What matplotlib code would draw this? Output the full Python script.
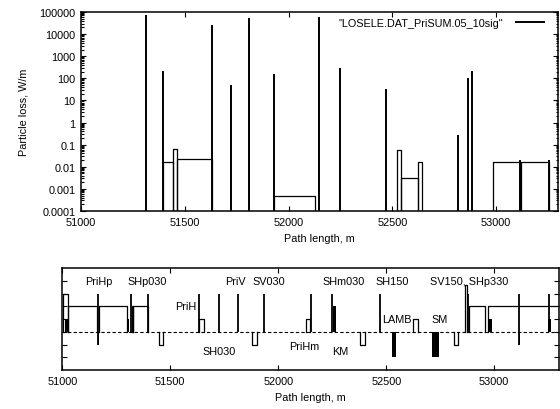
import matplotlib
matplotlib.use("Agg")
import matplotlib.pyplot as plt
from matplotlib.ticker import FixedLocator, FixedFormatter, LogLocator, NullFormatter

plt.rcParams['font.family'] = ['Liberation Sans', 'DejaVu Sans']
plt.rcParams['font.size'] = 7.8

# ---- particle loss along the ring (upper panel) ----
spike_pos = [51311, 51393, 51632, 51722, 51808, 51929, 52147, 52250, 52469,
             52816, 52866, 52882, 53117, 53254]
spike_val = [70000, 220, 25000, 50, 53000, 155, 60000, 300, 33,
             0.28, 100, 220, 0.02, 0.02]

box_start = [51393, 51441, 51463, 51929, 52522, 52543, 52623, 52984, 53122]
box_end = [51441, 51463, 51632, 52129, 52543, 52623, 52644, 53117, 53254]
box_val = [0.016, 0.063, 0.022, 0.0005, 0.059, 0.003, 0.017, 0.016, 0.016]

y_ticks = [1e-4, 1e-3, 1e-2, 1e-1, 1, 10, 100, 1000, 10000, 100000]
y_tick_labels = ['0.0001', '0.001', '0.01', '0.1', '1', '10', '100', '1000',
                 '10000', '100000']
x_ticks = [51000, 51500, 52000, 52500, 53000]
x_tick_labels = ['51000', '51500', '52000', '52500', '53000']
legend_label = '"LOSELE.DAT_PriSUM.05_10sig"'

# ---- lattice layout (lower panel) ----
# outlined elements: start, end, height
elem_start = [51003, 51028, 51170, 51324, 51329, 51446, 51634, 51880, 52128,
              52380, 52625, 52813, 52864, 52884, 52972]
elem_end = [51028, 51160, 51298, 51329, 51398, 51468, 51656, 51901, 52147,
            52401, 52645, 52833, 52872, 52957, 53310]
elem_height = [3, 2, 2, 2, 2, -1, 1, -1, 1, -1, 1, -1, 3.7, 2, 2]

# filled elements: start, end, height
fill_start = [51013, 51163, 51302, 52252, 52525, 52713, 52976, 53113, 53248]
fill_end = [51026, 51169, 51310, 52267, 52546, 52745, 52988, 53120, 53263]
fill_height = [1, -1, 1, 2, -2, -2, 1, -1, 1]

# thin markers: position, low, high
mark_pos = [51166, 51317, 51398, 51634, 51725, 51812, 51935, 52151, 52250,
            52472, 52880, 53116, 53253]
mark_lo = [-1, 0, 0, 0, 0, 0, 0, 0, 0, 0, 0, -1, 0]
mark_hi = [3, 3, 3, 3, 3, 3, 3, 3, 3, 3, 3, 3, 3]

names = ['PriHp', 'SHp030', 'PriH', 'PriV', 'SV030', 'SH030', 'PriHm',
         'SHm030', 'KM', 'SH150', 'LAMB', 'SM', 'SV150, SHp330']
name_pos = [51167, 51391, 51571, 51800, 51958, 51727, 52119,
            52301, 52289, 52528, 52551, 52745, 52883]
name_lev = [4, 4, 2, 4, 4, -1.5, -1.1, 4, -1.5, 4, 1, 1, 4]

W, H = 560, 410
fig = plt.figure(figsize=(W / 100, H / 100), dpi=100)

def frac(x0, y0, x1, y1):
    return [x0 / W, 1 - y1 / H, (x1 - x0) / W, (y1 - y0) / H]

ax1 = fig.add_axes(frac(81, 13, 558.3, 212))
ax2 = fig.add_axes(frac(62.3, 269, 559, 371))

ymin = 1e-4
line = None
for s, v in zip(spike_pos, spike_val):
    ln, = ax1.plot([s, s], [ymin, v], color='k', lw=1.4, solid_capstyle='butt')
    if line is None:
        line = ln
for s0, s1, v in zip(box_start, box_end, box_val):
    ax1.plot([s0, s0, s1, s1], [ymin, v, v, ymin], color='k', lw=0.9)

ax1.set_yscale('log')
ax1.set_xlim(51000, 53300)
ax1.set_ylim(1e-4, 1e5)
ax1.yaxis.set_major_locator(FixedLocator(y_ticks))
ax1.yaxis.set_major_formatter(FixedFormatter(y_tick_labels))
ax1.yaxis.set_minor_locator(LogLocator(base=10, subs=range(2, 10), numticks=20))
ax1.yaxis.set_minor_formatter(NullFormatter())
ax1.xaxis.set_major_locator(FixedLocator(x_ticks))
ax1.xaxis.set_major_formatter(FixedFormatter(x_tick_labels))
ax1.set_xlabel('Path length, m', labelpad=5)
ax1.set_ylabel('Particle loss, W/m', labelpad=8)
ax1.legend([line], [legend_label], loc='upper right', frameon=False,
           markerfirst=False, handlelength=2.8, handletextpad=1.1,
           borderpad=0, borderaxespad=0, bbox_to_anchor=(0.972, 0.972))

# lower panel
ax2.plot([51000, 53300], [0, 0], color='k', lw=0.8, ls=(0, (3, 2)))
for s0, s1, h in zip(elem_start, elem_end, elem_height):
    ax2.plot([s0, s0, s1, s1], [0, h, h, 0], color='k', lw=0.9)
for s0, s1, h in zip(fill_start, fill_end, fill_height):
    ax2.bar(s0, h, width=s1 - s0, align='edge', color='k', lw=0)
for s, lo, hi in zip(mark_pos, mark_lo, mark_hi):
    ax2.plot([s, s], [lo, hi], color='k', lw=1.3, solid_capstyle='butt')
for n, s, v in zip(names, name_pos, name_lev):
    ax2.text(s, v, n, ha='center', va='center')

ax2.set_xlim(51000, 53300)
ax2.set_ylim(-3, 5)
ax2.yaxis.set_major_locator(FixedLocator([-2, -1, 0, 1, 2, 3, 4]))
ax2.yaxis.set_major_formatter(NullFormatter())
ax2.xaxis.set_major_locator(FixedLocator(x_ticks))
ax2.xaxis.set_major_formatter(FixedFormatter(x_tick_labels))
ax2.set_xlabel('Path length, m', labelpad=5)

for ax in (ax1, ax2):
    ax.tick_params(which='both', direction='in', top=True, right=True,
                   width=0.8, pad=4)
    ax.tick_params(which='major', length=3.5)
    ax.tick_params(which='minor', length=1.8)
    for sp in ax.spines.values():
        sp.set_linewidth(1.1)

fig.savefig('out.png', dpi=100)
